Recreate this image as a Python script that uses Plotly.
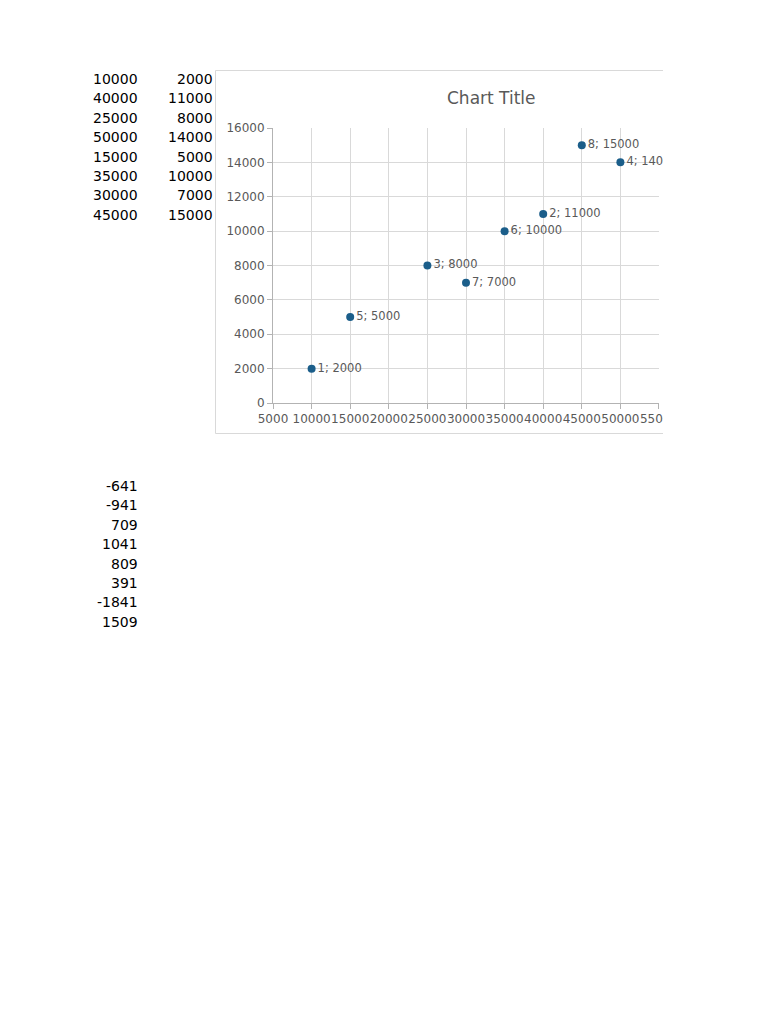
import plotly.graph_objects as go

# ---- data ----
x_values = [10000, 40000, 25000, 50000, 15000, 35000, 30000, 45000]
y_values = [2000, 11000, 8000, 14000, 5000, 10000, 7000, 15000]
residuals = [-641, -941, 709, 1041, 809, 391, -1841, 1509]
point_labels = [f"{i + 1}; {y}" for i, y in enumerate(y_values)]
chart_title = "Chart Title"

# ---- page geometry (page pixel coordinates) ----
OFF = 8          # body margin of the page
W = 760
H = 1016
PL, PR, PT, PB = 273, 659, 128, 403   # plot area edges in page pixels
CLIP_X = 663                          # page content is cut at this x


def px(x):
    return (x - PL) / (PR - PL)


def py(y):
    return (PB - y) / (PB - PT)


FONT = "DejaVu Sans"
GRAY = "#595959"

fig = go.Figure()
fig.add_trace(go.Scatter(
    x=x_values, y=y_values, mode="markers+text",
    text=point_labels, textposition="middle right",
    textfont=dict(family=FONT, size=11.5, color=GRAY),
    marker=dict(color="#1b5e8a", size=8, symbol="circle"),
    cliponaxis=False, showlegend=False, hoverinfo="skip",
))

annotations = []
row0 = 79
row_h = 19.4
for i, (a, b) in enumerate(zip(x_values, y_values)):
    yy = row0 + i * row_h
    annotations.append(dict(x=px(140), y=py(yy), xref="paper", yref="paper",
                            text=str(a), showarrow=False, xanchor="right", yanchor="middle",
                            font=dict(family=FONT, size=14, color="#000000")))
    annotations.append(dict(x=px(215), y=py(yy), xref="paper", yref="paper",
                            text=str(b), showarrow=False, xanchor="right", yanchor="middle",
                            font=dict(family=FONT, size=14, color="#000000")))
row1 = 486
for i, r in enumerate(residuals):
    yy = row1 + i * row_h
    annotations.append(dict(x=px(140), y=py(yy), xref="paper", yref="paper",
                            text=str(r), showarrow=False, xanchor="right", yanchor="middle",
                            font=dict(family=FONT, size=14, color="#000000")))
annotations.append(dict(x=px(491), y=py(98), xref="paper", yref="paper",
                        text=chart_title, showarrow=False, xanchor="center", yanchor="middle",
                        font=dict(family=FONT, size=17, color=GRAY)))

shapes = [
    dict(type="rect", xref="paper", yref="paper",
         x0=px(215.5), x1=px(800), y0=py(70.5), y1=py(433.5),
         line=dict(color="#d9d9d9", width=1), fillcolor="rgba(0,0,0,0)", layer="below"),
    # page edge: everything right of CLIP_X is cut off
    dict(type="rect", xref="paper", yref="paper",
         x0=px(CLIP_X), x1=px(900), y0=py(1100), y1=py(-100),
         line=dict(width=0), fillcolor="white", layer="above"),
]

axis_common = dict(showgrid=True, gridcolor="#d9d9d9", gridwidth=1,
                   showline=True, linecolor="#b3b3b3", linewidth=1,
                   ticks="outside", ticklen=5, tickcolor="#b3b3b3",
                   zeroline=False, tickformat="d", tickangle=0,
                   tickfont=dict(family=FONT, size=12, color=GRAY))

fig.update_layout(
    width=W, height=H, autosize=False,
    margin=dict(l=PL - OFF, r=W - (PR - OFF), t=PT - OFF, b=H - (PB - OFF), pad=0),
    paper_bgcolor="white", plot_bgcolor="white",
    xaxis=dict(range=[5000, 55001], dtick=5000, tick0=5000, **axis_common),
    yaxis=dict(range=[0, 16000], dtick=2000, tick0=0, **axis_common),
    annotations=annotations, shapes=shapes,
)

fig.write_html("out.html")
